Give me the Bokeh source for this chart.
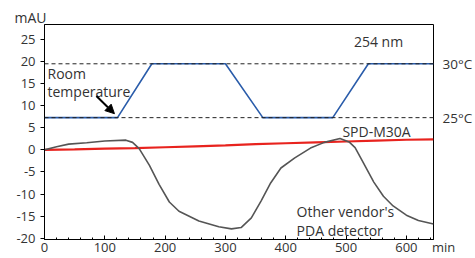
from bokeh.plotting import figure
from bokeh.models import Range1d, Span, Label, Arrow, NormalHead, FixedTicker, LinearAxis
from bokeh.embed import file_html
from bokeh.resources import INLINE

# ---- data ----
temp_time = [0, 121, 178, 300, 362, 478, 537, 645]
temp_level = [7.3, 7.3, 19.5, 19.5, 7.3, 7.3, 19.5, 19.5]

spd_time = [0, 50, 100, 150, 200, 250, 300, 350, 400, 450, 500, 550, 600, 645]
spd_mau = [0.0, 0.1, 0.3, 0.4, 0.6, 0.8, 1.0, 1.3, 1.5, 1.7, 1.9, 2.1, 2.3, 2.4]

other_time = [0, 20, 40, 70, 100, 135, 146, 157, 174, 190, 207, 223, 256, 289, 310,
              326, 343, 359, 375, 392, 415, 441, 464, 490, 505, 515, 529, 546, 562,
              578, 600, 620, 645]
other_mau = [0.0, 0.7, 1.3, 1.6, 2.0, 2.2, 1.7, 0.3, -3.5, -7.8, -11.8, -13.9, -16.1,
             -17.4, -17.9, -17.6, -15.4, -11.6, -7.5, -4.1, -1.8, 0.4, 1.7, 2.6, 1.8,
             0.5, -3.0, -7.3, -10.5, -12.7, -14.8, -16.0, -16.8]

temp_30 = 19.5
temp_25 = 7.3
temp_labels = {temp_25: "25°C", temp_30: "30°C"}

x_max = 645
x_ticks = [0, 100, 200, 300, 400, 500, 600]
x_tick_labels = {t: str(t) for t in x_ticks}
x_unit = "min"
y_ticks = [-20, -15, -10, -5, 0, 5, 10, 15, 20, 25]
y_tick_labels = ["-20", "-15", "-10", "-5", "0", "5", "10", "15", "20", "25"]
y_unit = "mAU"

FONT = "Open Sans"
TXT = "#333333"

p = figure(width=475, height=258, output_backend="svg", toolbar_location=None,
           x_range=Range1d(0, x_max), y_range=Range1d(-20.3, 28.4),
           min_border_left=44, min_border_right=38, min_border_top=24, min_border_bottom=19)

p.grid.visible = False
p.outline_line_color = "black"
p.outline_line_width = 1
p.background_fill_color = "white"
p.border_fill_color = "white"

# unit label above the y axis (as title)
p.title.text = y_unit
p.title.align = "left"
p.title.offset = -30
p.title.standoff = -4
p.title.text_font = FONT
p.title.text_font_size = "14px"
p.title.text_font_style = "normal"
p.title.text_color = TXT

# axes
nb = "\u00a0" * 6
x_tick_labels[x_max] = nb + x_unit
p.xaxis.ticker = FixedTicker(ticks=x_ticks + [x_max], minor_ticks=list(range(0, x_max + 1, 20)))
p.xaxis.major_label_overrides = x_tick_labels
p.yaxis.ticker = FixedTicker(ticks=y_ticks)
p.yaxis.major_label_overrides = {t: l for t, l in zip(y_ticks, y_tick_labels)}

# right axis carrying the temperature labels
rax = LinearAxis(ticker=FixedTicker(ticks=[temp_25, temp_30]),
                 major_label_overrides=temp_labels,
                 axis_line_color=None, major_tick_line_color=None,
                 minor_tick_line_color=None, major_tick_in=0, major_tick_out=0,
                 minor_tick_in=0, minor_tick_out=0, major_label_standoff=3,
                 major_label_text_font=FONT, major_label_text_font_size="13.5px",
                 major_label_text_color=TXT)
p.add_layout(rax, "right")

for ax in (p.xaxis[0], p.yaxis[0]):
    ax.axis_line_color = "black"
    ax.major_tick_line_color = "black"
    ax.minor_tick_line_color = "black"
    ax.major_label_text_font = FONT
    ax.major_label_text_font_size = "13px"
    ax.major_label_text_color = TXT
p.xaxis.major_tick_in = 4
p.xaxis.major_tick_out = 0
p.xaxis.minor_tick_in = 2
p.xaxis.minor_tick_out = 0
p.xaxis.major_label_standoff = -2
p.yaxis.major_tick_in = 0
p.yaxis.major_tick_out = 4
p.yaxis.minor_tick_line_color = None
p.yaxis.major_label_standoff = 5

# dashed temperature reference lines
for lvl in (temp_30, temp_25):
    p.add_layout(Span(location=lvl, dimension="width", line_color="#222222",
                      line_dash="4 3", line_width=1))

# series
p.line(spd_time, spd_mau, line_color="#e8231e", line_width=2.2)
p.line(other_time, other_mau, line_color="#555555", line_width=1.6)
p.line(temp_time, temp_level, line_color="#2a5caa", line_width=1.6)

# annotations inside the frame
def lab(x, y, text, **kw):
    opts = dict(text_font=FONT, text_font_size="14px", text_color=TXT)
    opts.update(kw)
    p.add_layout(Label(x=x, y=y, text=text, **opts))

lab(513, 26.6, "254 nm", text_baseline="top")
lab(5, 19.5, "Room\ntemperature", text_baseline="top", text_line_height=0.95)
lab(494, 6.4, "SPD-M30A", text_baseline="top")
lab(418, -11.8, "Other vendor's\nPDA detector", text_baseline="top", text_line_height=1.0)

p.add_layout(Arrow(end=NormalHead(size=9, fill_color="black", line_color="black"),
                   x_start=86, y_start=12.2, x_end=116, y_end=8.2,
                   line_color="black", line_width=2))

open("out.html", "w").write(file_html(p, INLINE))
